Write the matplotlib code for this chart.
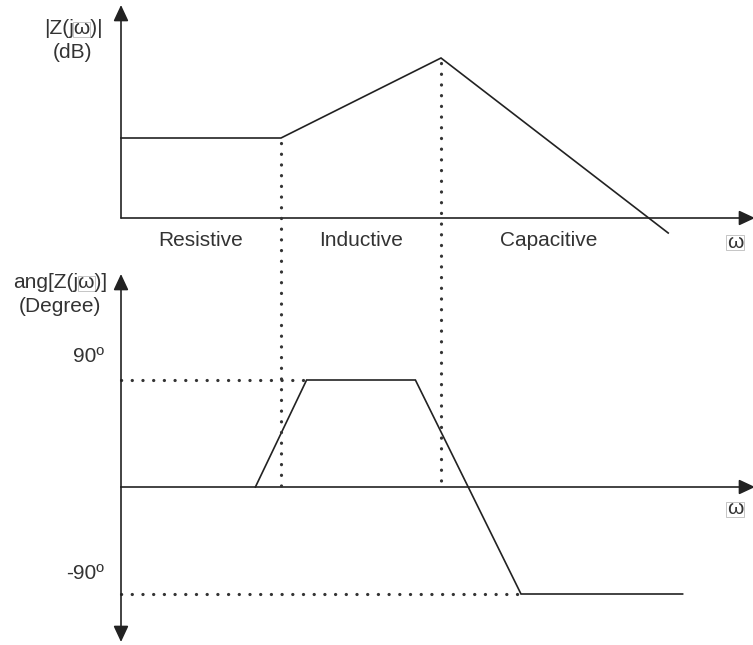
import matplotlib
matplotlib.use("Agg")
import matplotlib.pyplot as plt
from matplotlib.patches import Rectangle

plt.rcParams['font.family'] = ['Liberation Sans', 'DejaVu Sans']

# Asymptotic Bode sketch of an impedance |Z(jw)| and its phase
w_mag = [0.0, 10.0, 20.0, 34.2]          # frequency breakpoints (arbitrary units)
mag_db = [20.0, 20.0, 40.0, -3.75]       # magnitude in dB
w_phase = [8.4, 11.6, 18.4, 25.0, 35.1]  # phase breakpoints
phase_deg = [0.0, 90.0, 90.0, -90.0, -90.0]
w_break = [10.0, 20.0]                   # corner frequencies
phase_ticks = [90.0, -90.0]
phase_tick_labels = ["90º", "-90º"]
regions = ["Resistive", "Inductive", "Capacitive"]
region_w = [5.0, 15.0, 26.7]

W, H = 753, 645
fig = plt.figure(figsize=(W / 100, H / 100), dpi=100)

def px_axes(x0, y0, x1, y1):
    return fig.add_axes([x0 / W, 1 - y1 / H, (x1 - x0) / W, (y1 - y0) / H])

ink = "#222222"
dot = "#333333"
txt = "#333333"
fs = 15

# top: magnitude, 16 px per frequency unit, 4 px per dB, 0 dB at y=218
axm = px_axes(121, 0, 753, 250)
axm.set_xlim(0, 632 / 16)
axm.set_ylim((218 - 250) / 4, 218 / 4)
# bottom: phase, 107 px per 90 degrees, 0 deg at y=487
axp = px_axes(121, 260, 753, 645)
axp.set_xlim(0, 632 / 16)
axp.set_ylim((487 - 645) * 90 / 107, (487 - 260) * 90 / 107)
# overlay for labels in pixel coordinates
ov = fig.add_axes([0, 0, 1, 1])
ov.set_xlim(0, W)
ov.set_ylim(H, 0)
for a in (axm, axp, ov):
    a.axis("off")
    a.patch.set_alpha(0)

arrow = dict(arrowstyle="-|>,head_length=0.75,head_width=0.35", color=ink, lw=1.2,
             mutation_scale=13, shrinkA=0, shrinkB=0)
# axes with arrowheads
axm.annotate("", xy=(0, 213 / 4), xytext=(0, 0), arrowprops=arrow, annotation_clip=False)
axm.annotate("", xy=(634 / 16, 0), xytext=(0, 0), arrowprops=arrow, annotation_clip=False)
axp.annotate("", xy=(634 / 16, 0), xytext=(0, 0), arrowprops=arrow, annotation_clip=False)
axp.annotate("", xy=(0, (487 - 274) * 90 / 107), xytext=(0, 0), arrowprops=arrow, annotation_clip=False)
axp.annotate("", xy=(0, (487 - 642) * 90 / 107), xytext=(0, 0), arrowprops=arrow, annotation_clip=False)

# curves
axm.plot(w_mag, mag_db, color=ink, lw=1.2, clip_on=False, solid_joinstyle="miter")
axp.plot(w_phase, phase_deg, color=ink, lw=1.2, clip_on=False, solid_joinstyle="miter")

dotted = dict(color=dot, lw=2.3, linestyle=(0, (0.05, 3.3)), dash_capstyle="round",
              clip_on=False)
# vertical guides at the corner frequencies, from the magnitude curve down to 0 deg
for wb in w_break:
    level = mag_db[w_mag.index(wb)]
    y_top = 218 - level * 4 + 5
    ov.plot([121 + wb * 16, 121 + wb * 16], [y_top, 487], **dotted)
# horizontal guides at +/-90 deg
for deg, lab in zip(phase_ticks, phase_tick_labels):
    idx = phase_deg.index(deg)
    axp.plot([0, w_phase[idx] - 0.1], [deg, deg], **dotted)
    axp.text(-1.05, deg + 20 if deg > 0 else deg + 17, lab, ha="right", va="center",
             fontsize=fs, color=txt, transform=axp.transData)

for name, wr in zip(regions, region_w):
    axm.text(wr, (218 - 241) / 4, name, ha="center", va="center", fontsize=fs, color=txt)

fig.canvas.draw()
renderer = fig.canvas.get_renderer()

def boxed_omega_text(x, y, s, ha="center"):
    """Draw s at (x, y) in pixel coords; the omega glyph gets a thin grey frame."""
    t = ov.text(x, y, s, ha=ha, va="center", fontsize=fs, color=txt)
    bb = t.get_window_extent(renderer)
    i = s.index("ω")
    pre = ov.text(0, 0, s[:i], fontsize=fs)
    upto = ov.text(0, 0, s[:i + 1], fontsize=fs)
    w_pre = pre.get_window_extent(renderer).width if s[:i] else 0
    w_upto = upto.get_window_extent(renderer).width
    pre.remove()
    upto.remove()
    x0 = bb.x0 + w_pre
    x1 = bb.x0 + w_upto
    # window coords -> pixel coords of the overlay (y flipped)
    top = H - bb.y1 + 2
    bot = H - bb.y0 - 2
    ov.add_patch(Rectangle((x0 - 0.5, top), x1 - x0 + 1, bot - top, fill=False,
                           ec="#bbbbbb", lw=0.6))

boxed_omega_text(73, 29, "|Z(jω)|")
ov.text(73, 53, "(dB)", ha="center", va="center", fontsize=fs, color=txt)
boxed_omega_text(60, 283, "ang[Z(jω)]")
ov.text(60, 306, "(Degree)", ha="center", va="center", fontsize=fs, color=txt)
boxed_omega_text(735, 242, "ω")
boxed_omega_text(735, 509, "ω")

fig.savefig("out.png", dpi=100)
